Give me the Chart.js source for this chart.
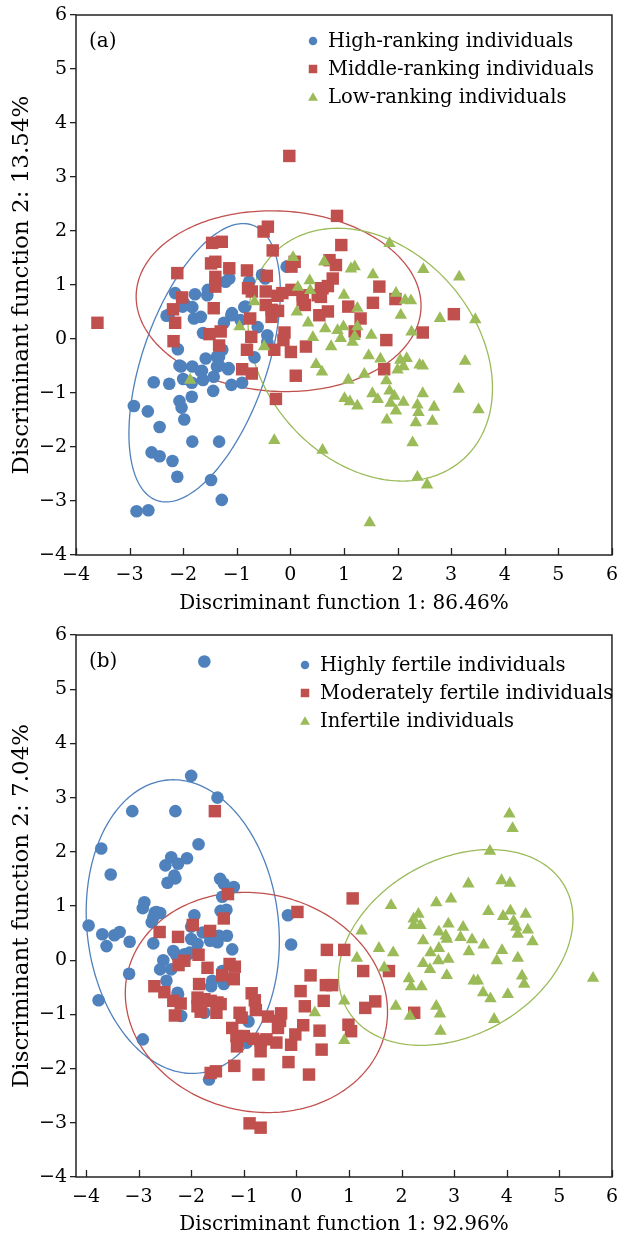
<!DOCTYPE html>
<html>
<head>
<meta charset="utf-8">
<script src="https://cdn.jsdelivr.net/npm/chart.js@4.4.0/dist/chart.umd.min.js"></script>
<style>
  body { margin: 0; background: #fff; }
  .panel { width: 627px; position: relative; }
</style>
</head>
<body>
<div class="panel" style="height:620px"><canvas id="chartA" width="627" height="620"></canvas></div>
<div class="panel" style="height:623px"><canvas id="chartB" width="627" height="623"></canvas></div>
<script>
// discriminant scores, panel (a): dominance rank
const highRanking = [[-2.92,-1.24],[-2.66,-1.34],[-2.44,-1.63],[-2.87,-3.19],[-2.65,-3.17],[-2.59,-2.10],[-2.44,-2.17],[-2.20,-2.26],[-2.11,-2.55],[-2.55,-0.80],[-2.26,-0.83],[-2.07,-1.15],[-2.03,-1.27],[-1.98,-1.49],[-1.84,-1.07],[-1.83,-1.90],[-1.33,-1.90],[-1.48,-2.61],[-1.28,-2.98],[-2.10,-0.19],[-2.07,-0.49],[-2.00,-0.74],[-1.83,-0.51],[-1.84,-0.81],[-1.63,-0.76],[-1.65,-0.59],[-1.44,-0.96],[-1.58,-0.36],[-1.33,-0.33],[-1.33,-0.49],[-1.16,-0.56],[-1.10,-0.85],[-0.90,-0.81],[-1.43,-0.70],[-1.63,0.11],[-1.27,-0.20],[-1.24,0.30],[-1.10,0.44],[-0.93,0.35],[-0.86,0.59],[-0.61,0.22],[-0.43,0.07],[-0.43,-0.06],[-0.67,-0.34],[-2.15,0.85],[-2.31,0.43],[-1.98,0.66],[-1.83,0.59],[-1.78,0.83],[-1.80,0.38],[-1.67,0.41],[-1.55,0.81],[-1.54,0.91],[-1.21,1.06],[-1.14,1.12],[-0.77,1.06],[-0.53,1.19],[-0.47,1.12],[-0.07,1.34],[-2.27,0.45],[-2.01,0.60],[-1.37,-0.51],[-1.37,-0.33],[-1.67,-0.60],[-1.09,0.48],[-0.84,0.60],[-1.15,-0.54],[-2.04,-0.51]];
const middleRanking = [[-3.60,0.30],[-2.11,1.22],[-2.19,0.55],[-2.02,0.77],[-2.15,0.30],[-2.18,-0.04],[-1.46,1.78],[-1.28,1.80],[-1.48,1.40],[-1.40,1.43],[-1.14,1.31],[-1.40,1.15],[-1.40,0.97],[-1.43,0.57],[-1.51,0.09],[-1.30,0.14],[-1.33,-0.12],[-0.81,1.27],[-0.79,0.94],[-0.72,0.88],[-0.75,0.38],[-0.73,0.04],[-0.81,-0.20],[-0.90,-0.56],[-0.72,-0.64],[-0.50,1.99],[-0.42,2.08],[-0.33,1.64],[-0.44,1.17],[-0.46,0.88],[-0.46,0.63],[-0.35,0.54],[-0.35,0.41],[-0.23,0.52],[-0.30,-0.20],[-0.11,0.12],[-0.13,-0.02],[0.01,-0.24],[-0.24,0.80],[-0.15,0.85],[0.02,1.34],[0.08,1.43],[0.10,-0.68],[-0.27,-1.11],[0.27,0.63],[0.29,-0.14],[0.87,2.28],[0.95,1.74],[0.73,1.46],[0.85,1.37],[0.79,1.12],[0.70,0.98],[0.57,0.78],[0.54,0.44],[0.70,0.51],[1.08,0.60],[-0.02,3.39],[0.57,0.94],[0.23,0.81],[0.02,0.91],[1.66,0.97],[1.96,0.74],[1.54,0.67],[1.31,0.38],[1.20,0.14],[1.79,-0.02],[2.47,0.12],[3.05,0.46],[1.75,-0.56],[0.51,0.81],[0.23,0.72],[0.60,0.94]];
const lowRanking = [[-1.87,-0.76],[-0.95,0.23],[-0.67,0.69],[-0.49,-0.14],[-0.30,-1.88],[0.05,1.51],[0.14,0.96],[0.36,1.08],[0.37,0.90],[0.12,0.50],[0.33,0.30],[0.42,0.03],[0.63,1.43],[0.65,0.19],[0.76,-0.14],[0.48,-0.47],[0.59,-0.61],[0.60,-2.06],[1.13,1.30],[1.20,1.34],[1.85,1.77],[2.48,1.29],[3.15,1.15],[1.54,1.19],[1.00,0.81],[1.97,0.85],[2.14,0.72],[2.25,0.71],[1.25,0.57],[2.06,0.44],[2.79,0.38],[3.45,0.36],[0.88,0.16],[0.99,0.23],[1.25,0.23],[1.20,0.05],[0.94,0.01],[1.16,-0.06],[1.51,0.07],[2.26,0.13],[1.46,-0.31],[1.68,-0.37],[2.05,-0.39],[2.17,-0.36],[2.11,-0.51],[2.00,-0.57],[2.41,-0.48],[2.47,-0.50],[3.26,-0.41],[1.08,-0.76],[1.38,-0.65],[1.79,-0.77],[1.53,-1.01],[1.63,-1.12],[1.85,-0.96],[1.94,-1.06],[1.87,-1.19],[1.97,-1.33],[2.11,-1.17],[1.01,-1.10],[1.11,-1.16],[1.25,-1.24],[1.80,-1.50],[2.47,-1.01],[2.37,-1.22],[2.39,-1.36],[2.34,-1.55],[2.68,-1.26],[2.65,-1.52],[3.14,-0.93],[3.51,-1.31],[2.28,-1.92],[2.37,-2.56],[2.55,-2.70],[1.48,-3.40]];

// discriminant scores, panel (b): fertility
const highlyFertile = [[-1.75,5.51],[-2.00,3.40],[-1.50,3.00],[-3.12,2.75],[-2.30,2.75],[-3.71,2.06],[-3.53,1.58],[-1.86,2.14],[-2.38,1.90],[-2.49,1.75],[-2.25,1.78],[-2.08,1.88],[-2.32,1.56],[-2.30,1.51],[-2.45,1.43],[-1.45,1.50],[-1.38,1.41],[-1.19,1.35],[-1.41,1.17],[-2.89,1.07],[-2.92,0.96],[-1.44,0.91],[-1.33,0.93],[-1.94,0.83],[-2.69,0.88],[-2.59,0.87],[-0.16,0.83],[-2.66,0.89],[-2.72,0.79],[-2.75,0.70],[-3.95,0.64],[-3.69,0.48],[-3.46,0.46],[-3.36,0.52],[-3.61,0.26],[-3.17,0.34],[-2.72,0.31],[-2.00,0.62],[-1.78,0.51],[-1.64,0.36],[-1.50,0.33],[-1.47,0.45],[-1.32,0.45],[-2.00,0.39],[-1.88,0.30],[-1.22,0.20],[-2.34,0.17],[-2.28,0.09],[-2.53,0.00],[-2.59,-0.17],[-2.38,-0.17],[-2.06,0.11],[-3.18,-0.25],[-2.47,-0.38],[-1.41,-0.20],[-1.38,-0.32],[-1.60,-0.38],[-1.62,-0.48],[-1.38,-0.44],[-2.26,-0.60],[-3.76,-0.74],[-2.92,-1.46],[-1.66,-2.20],[-2.25,-0.63],[-2.19,-1.03],[-1.75,-0.97],[-0.91,-1.13],[-0.94,-1.52],[-0.10,0.29],[-2.13,0.11],[-2.03,0.14]];
const moderatelyFertile = [[-1.55,2.75],[-1.30,1.22],[0.02,0.89],[1.07,1.14],[-1.38,0.77],[-2.60,0.52],[-1.97,0.65],[-1.64,0.54],[-2.25,0.43],[-1.86,0.10],[-2.13,-0.01],[-2.24,-0.09],[-1.69,-0.14],[-1.27,-0.07],[-1.17,-0.12],[-1.41,-0.28],[-1.19,-0.35],[-1.85,-0.44],[-2.70,-0.48],[-2.51,-0.59],[-2.34,-0.75],[-2.20,-0.80],[-2.31,-1.02],[-1.88,-0.69],[-1.75,-0.72],[-1.88,-0.85],[-1.82,-0.95],[-1.63,-0.75],[-1.50,-0.78],[-1.44,-0.81],[-1.52,-0.97],[-0.85,-0.61],[-0.79,-0.74],[-0.77,-0.92],[-1.08,-0.97],[-1.04,-1.06],[-1.22,-1.25],[-1.14,-1.40],[-1.13,-1.59],[-1.00,-1.40],[-0.54,-1.04],[-0.29,-0.98],[-0.31,-1.12],[-0.35,-1.25],[-0.82,-1.45],[-0.68,-1.49],[-0.57,-1.46],[-0.68,-1.68],[-0.38,-1.52],[-0.10,-1.56],[-0.02,-1.37],[-0.15,-1.88],[-1.18,-1.95],[-0.72,-2.11],[-1.63,-2.08],[-1.53,-2.05],[0.24,-2.11],[-0.89,-3.01],[-0.68,-3.09],[0.13,-1.20],[0.08,-0.57],[0.16,-0.85],[0.27,-0.28],[0.52,-0.75],[0.58,0.19],[0.91,0.19],[0.44,-1.30],[0.48,-1.65],[0.56,-0.46],[0.68,-0.46],[0.99,-1.19],[1.04,-1.31],[1.27,-0.20],[1.76,-0.20],[1.31,-0.88],[1.50,-0.76],[2.24,-0.97]];
const infertile = [[4.05,2.70],[4.11,2.43],[3.68,2.01],[3.27,1.41],[3.90,1.47],[4.06,1.42],[1.80,1.01],[2.66,1.06],[2.94,1.13],[2.23,0.76],[2.32,0.85],[2.23,0.64],[2.36,0.64],[3.65,0.90],[3.93,0.81],[4.07,0.91],[4.13,0.72],[4.18,0.61],[4.36,0.85],[4.21,0.48],[4.40,0.56],[4.49,0.34],[1.24,0.54],[2.41,0.36],[2.71,0.52],[2.89,0.67],[2.84,0.45],[2.86,0.39],[3.17,0.61],[3.12,0.42],[3.34,0.38],[3.56,0.28],[1.57,0.22],[1.84,0.14],[1.15,0.04],[1.67,-0.14],[2.55,0.14],[2.71,0.22],[3.28,0.16],[3.91,0.18],[3.81,-0.01],[4.21,0.04],[2.41,-0.06],[2.54,-0.17],[2.70,-0.01],[2.89,0.02],[2.86,-0.28],[2.14,-0.34],[2.18,-0.49],[2.38,-0.49],[3.37,-0.38],[3.45,-0.38],[3.55,-0.60],[3.69,-0.71],[4.02,-0.63],[4.29,-0.29],[4.33,-0.44],[5.64,-0.33],[0.91,-0.75],[0.35,-0.97],[1.89,-0.85],[2.16,-1.03],[2.66,-0.85],[2.73,-0.99],[3.76,-1.09],[2.74,-1.31],[0.91,-1.48]];

// 95% ellipses: centre x, centre y, semi-axis a, semi-axis b, rotation (deg)
const ellipsesA = [[-1.60,-0.44,2.70,1.16,70.7],[-0.22,0.70,2.66,1.67,-3],[1.49,-0.29,2.60,1.98,-47.8]];
const ellipsesB = [[-2.16,0.62,2.72,1.82,-83.05],[-0.76,-0.78,2.51,2.01,-11.25],[3.03,0.235,2.36,1.63,27.1]];

const labelsA = ['High-ranking individuals', 'Middle-ranking individuals', 'Low-ranking individuals'];
const labelsB = ['Highly fertile individuals', 'Moderately fertile individuals', 'Infertile individuals'];
const xTicks = [-4, -3, -2, -1, 0, 1, 2, 3, 4, 5, 6];
const yTicks = [-4, -3, -2, -1, 0, 1, 2, 3, 4, 5, 6];

const BLUE = '#4F81BD', RED = '#C0504D', GREEN = '#9BBB59';
const COLORS = [BLUE, RED, GREEN];
const STYLES = ['circle', 'rect', 'triangle'];
const RADII = [6.3, 8.8, 7.2];

Chart.defaults.font.family = "'DejaVu Serif', serif";
Chart.defaults.color = '#000';

const toPts = arr => arr.map(p => ({ x: p[0], y: p[1] }));
const fmt = v => (v < 0 ? '\u2212' + Math.abs(v) : '' + v);

function drawMarker(ctx, style, x, y, s, color) {
  ctx.fillStyle = color;
  ctx.beginPath();
  if (style === 'circle') {
    ctx.arc(x, y, s / 2, 0, Math.PI * 2);
  } else if (style === 'rect') {
    ctx.rect(x - s / 2, y - s / 2, s, s);
  } else {
    ctx.moveTo(x, y - s * 0.55);
    ctx.lineTo(x + s * 0.58, y + s * 0.45);
    ctx.lineTo(x - s * 0.58, y + s * 0.45);
    ctx.closePath();
  }
  ctx.fill();
}

// frame, inward x ticks, ellipses, legend and panel letter
const decor = {
  id: 'decor',
  beforeDatasetsDraw(chart, args, opts) {
    const ctx = chart.ctx, xs = chart.scales.x, ys = chart.scales.y;
    ctx.save();
    ctx.lineWidth = 1.3;
    opts.ellipses.forEach((e, k) => {
      const rad = e[4] * Math.PI / 180;
      ctx.strokeStyle = COLORS[k];
      ctx.beginPath();
      for (let i = 0; i <= 240; i++) {
        const t = i / 240 * Math.PI * 2;
        const dx = e[2] * Math.cos(t), dy = e[3] * Math.sin(t);
        const px = xs.getPixelForValue(e[0] + dx * Math.cos(rad) - dy * Math.sin(rad));
        const py = ys.getPixelForValue(e[1] + dx * Math.sin(rad) + dy * Math.cos(rad));
        if (i === 0) ctx.moveTo(px, py); else ctx.lineTo(px, py);
      }
      ctx.stroke();
    });
    ctx.restore();
  },
  afterDraw(chart, args, opts) {
    const ctx = chart.ctx, a = chart.chartArea, xs = chart.scales.x;
    ctx.save();
    ctx.strokeStyle = '#222';
    ctx.lineWidth = 1.5;
    ctx.strokeRect(a.left, a.top, a.right - a.left, a.bottom - a.top);
    ctx.lineWidth = 1.3;
    xs.ticks.forEach(t => {
      const px = Math.round(xs.getPixelForValue(t.value)) + 0.5;
      ctx.beginPath();
      ctx.moveTo(px, a.bottom);
      ctx.lineTo(px, a.bottom - 7);
      ctx.stroke();
    });
    // legend
    ctx.font = '19.5px "DejaVu Serif"';
    ctx.textBaseline = 'middle';
    ctx.textAlign = 'left';
    opts.labels.forEach((lab, i) => {
      const y = opts.legendY + i * opts.legendGap;
      drawMarker(ctx, STYLES[i], opts.legendX, y, 8.5, COLORS[i]);
      ctx.fillStyle = '#000';
      ctx.fillText(lab, opts.legendX + 15, y + 1);
    });
    ctx.font = '20px "DejaVu Serif"';
    ctx.fillText(opts.letter, a.left + 13, a.top + 27);
    ctx.restore();
  }
};

function makeChart(id, sets, labels, ellipses, xMin, xTitle, yTitle, xAxisH, padRight, legendX, legendY, titlePad) {
  return new Chart(document.getElementById(id), {
    type: 'scatter',
    data: {
      datasets: sets.map((s, i) => ({
        label: labels[i],
        data: toPts(s),
        pointStyle: STYLES[i],
        pointRadius: RADII[i],
        pointHoverRadius: RADII[i],
        backgroundColor: COLORS[i],
        borderColor: COLORS[i],
        pointBorderWidth: 0,
        order: 3 - i
      }))
    },
    options: {
      responsive: false,
      animation: false,
      events: [],
      layout: { padding: { left: 0, top: 15, right: padRight, bottom: 0 } },
      plugins: {
        legend: { display: false },
        tooltip: { enabled: false },
        decor: { ellipses: ellipses, labels: labels, legendX: legendX, legendY: legendY, legendGap: 28, letter: id === 'chartA' ? '(a)' : '(b)' }
      },
      scales: {
        x: {
          type: 'linear', min: xMin, max: 6,
          afterBuildTicks: s => { s.ticks = xTicks.map(v => ({ value: v })); },
          afterFit: s => { s.height = xAxisH; },
          ticks: { padding: 9, font: { size: 19 }, callback: fmt, maxRotation: 0, autoSkip: false },
          grid: { display: false, drawTicks: false },
          border: { display: false },
          title: { display: true, text: xTitle, font: { size: 20 }, padding: { top: 0, bottom: titlePad } }
        },
        y: {
          type: 'linear', min: -4, max: 6,
          afterBuildTicks: s => { s.ticks = yTicks.map(v => ({ value: v })); },
          afterFit: s => { s.width = 76; },
          ticks: { padding: 3, font: { size: 19 }, callback: fmt },
          grid: { display: true, drawOnChartArea: false, drawTicks: true, tickLength: 6, color: '#222', lineWidth: 1.3 },
          border: { display: false },
          title: { display: true, text: yTitle, font: { size: 23 }, padding: { top: 8, bottom: 0 } }
        }
      }
    },
    plugins: [decor]
  });
}

makeChart('chartA', [highRanking, middleRanking, lowRanking], labelsA, ellipsesA, -4,
  'Discriminant function 1: 86.46%', 'Discriminant function 2: 13.54%', 65, 9, 313, 41, 4);

makeChart('chartB', [highlyFertile, moderatelyFertile, infertile], labelsB, ellipsesB, -4.19,
  'Discriminant function 1: 92.96%', 'Discriminant function 2: 7.04%', 66, 5, 305, 45, 6);
</script>
</body>
</html>
